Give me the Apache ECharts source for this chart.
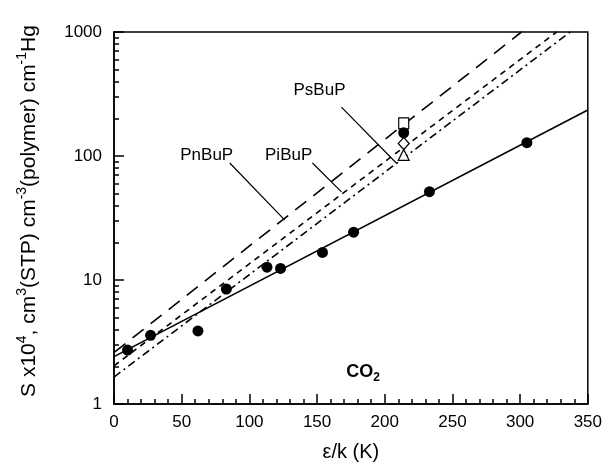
<!DOCTYPE html>
<html>
<head>
<meta charset="utf-8">
<script src="https://cdn.jsdelivr.net/npm/echarts@6/dist/echarts.min.js"></script>
<style>
  html, body { margin: 0; padding: 0; background: #fff; }
  #chart { width: 605px; height: 471px; }
</style>
</head>
<body>
<div id="chart"></div>
<script>
// CO2 solubility vs epsilon/k
const epsK = [10, 27, 62, 83, 113, 123, 154, 177, 233, 305];
const solubility = [2.72, 3.58, 3.88, 8.46, 12.7, 12.4, 16.7, 24.3, 51.5, 128];

// polymer points at epsilon/k = 214
const polyX = 214;
const polyFilled = 154;
const polySquare = 183;
const polyDiamond = 126;
const polyTriangle = 102;

// fitted lines, [x, S] end points
const fitCO2 = [[0, 2.41], [350, 235]];
const fitPnBuP = [[-13, 2.01], [301, 1000]];
const fitPiBuP = [[0, 2.03], [327, 1000]];
const fitPsBuP = [[0, 1.65], [337, 1000]];

// leader lines for the labels
const leadPnBuP = [[85.5, 87.8], [126, 30.5]];
const leadPiBuP = [[146.6, 87.8], [168, 51.3]];
const leadPsBuP = [[168, 248], [208.5, 87.8]];

const labelNames = ["PnBuP", "PiBuP", "PsBuP"];
const labelPos = [[68.5, 102], [129, 102], [151.8, 340]];

const xTicks = [0, 50, 100, 150, 200, 250, 300, 350];
const yTicks = [1, 10, 100, 1000];
const yMinor = [2, 3, 4, 5, 6, 7, 8, 9, 20, 30, 40, 50, 60, 70, 80, 90, 200, 300, 400, 500, 600, 700, 800, 900];

const chart = echarts.init(document.getElementById("chart"));
const font = "Liberation Sans";

function fitLine(name, data, type) {
  return {
    name: name,
    type: "line",
    data: data,
    symbol: "none",
    clip: false,
    silent: true,
    lineStyle: { color: "#000", width: 1.6, type: type },
    z: 2,
  };
}

function leader(data) {
  return {
    type: "line",
    data: data,
    symbol: "none",
    silent: true,
    lineStyle: { color: "#000", width: 1.2 },
    z: 2,
  };
}

const openStyle = { color: "#fff", borderColor: "#000", borderWidth: 1.2, opacity: 1 };

const option = {
  animation: false,
  backgroundColor: "#fff",
  textStyle: { fontFamily: font },
  grid: {
    left: 114,
    right: 16,
    top: 32,
    bottom: 67,
    show: true,
    borderColor: "#000",
    borderWidth: 1.5,
  },
  graphic: [
    {
      type: "text",
      x: 29,
      y: 211,
      rotation: Math.PI / 2,
      style: {
        text: "S x10{sup|4}, cm{sup|3}(STP) cm{sup|-3}(polymer) cm{sup|-1}Hg",
        fill: "#000",
        font: "21px " + font,
        align: "center",
        verticalAlign: "middle",
        rich: {
          sup: { fontSize: 14, verticalAlign: "top", lineHeight: 14, fill: "#000", fontFamily: font },
        },
        lineHeight: 28,
      },
    },
  ],
  xAxis: {
    type: "value",
    min: 0,
    max: 350,
    interval: 50,
    name: "ε/k (K)",
    nameLocation: "middle",
    nameGap: 38,
    nameTextStyle: { fontSize: 20, color: "#000", fontFamily: font },
    axisLine: { lineStyle: { color: "#000", width: 1.5 } },
    axisTick: { inside: true, length: 10, lineStyle: { color: "#000", width: 1.5 } },
    minorTick: { show: true, splitNumber: 5, length: 5, lineStyle: { color: "#000", width: 1.5 } },
    axisLabel: {
      color: "#000",
      fontSize: 17,
      margin: 10,
      fontFamily: font,
      customValues: xTicks,
    },
    splitLine: { show: false },
  },
  yAxis: [
    {
      type: "log",
      logBase: 10,
      min: 1,
      max: 1000,
      axisLine: { lineStyle: { color: "#000", width: 1.5 } },
      axisTick: { inside: true, length: 10, lineStyle: { color: "#000", width: 1.5 } },
      axisLabel: {
        color: "#000",
        fontSize: 17,
        margin: 12,
        fontFamily: font,
        customValues: yTicks,
        formatter: (v) => String(Math.round(v)),
      },
      splitLine: { show: false },
    },
    {
      type: "log",
      logBase: 10,
      min: 1,
      max: 1000,
      position: "left",
      axisLine: { show: false },
      axisTick: {
        inside: true,
        length: 5,
        customValues: yMinor,
        lineStyle: { color: "#000", width: 1.5 },
      },
      axisLabel: { show: false },
      splitLine: { show: false },
    },
  ],
  series: [
    fitLine("CO2 fit", fitCO2, "solid"),
    fitLine("PnBuP", fitPnBuP, [14, 9]),
    fitLine("PiBuP", fitPiBuP, [6, 5]),
    fitLine("PsBuP", fitPsBuP, [8, 4, 2, 4]),
    leader(leadPnBuP),
    leader(leadPiBuP),
    leader(leadPsBuP),
    {
      name: "CO2",
      type: "scatter",
      symbol: "circle",
      symbolSize: 11,
      itemStyle: { color: "#000", opacity: 1 },
      data: epsK.map((x, i) => [x, solubility[i]]),
      z: 5,
    },
    {
      type: "scatter",
      symbol: "rect",
      symbolSize: [10, 11],
      itemStyle: openStyle,
      data: [[polyX, polySquare]],
      z: 4,
    },
    {
      type: "scatter",
      symbol: "diamond",
      symbolSize: [11, 12],
      itemStyle: openStyle,
      data: [[polyX, polyDiamond]],
      z: 4,
    },
    {
      type: "scatter",
      symbol: "triangle",
      symbolSize: [11, 11],
      itemStyle: openStyle,
      data: [[polyX, polyTriangle]],
      z: 4,
    },
    {
      type: "scatter",
      symbol: "circle",
      symbolSize: 11,
      itemStyle: { color: "#000", opacity: 1 },
      data: [[polyX, polyFilled]],
      z: 6,
    },
    {
      // text labels
      type: "scatter",
      symbolSize: 0,
      silent: true,
      itemStyle: { opacity: 1 },
      data: labelNames.map((n, i) => ({ name: n, value: labelPos[i] })),
      label: {
        show: true,
        position: "inside",
        formatter: "{b}",
        color: "#000",
        fontSize: 17,
        fontFamily: font,
      },
      z: 6,
    },
    {
      type: "scatter",
      symbolSize: 0,
      silent: true,
      itemStyle: { opacity: 1 },
      data: [{ name: "CO2", value: [184, 1.8] }],
      label: {
        show: true,
        position: "inside",
        formatter: "{a|CO}{b|2}",
        rich: {
          a: { fontSize: 18, fontWeight: "bold", color: "#000", fontFamily: font, lineHeight: 22 },
          b: { fontSize: 12, fontWeight: "bold", color: "#000", fontFamily: font, verticalAlign: "bottom", lineHeight: 12 },
        },
      },
      z: 6,
    },
  ],
};

chart.setOption(option);
</script>
</body>
</html>
